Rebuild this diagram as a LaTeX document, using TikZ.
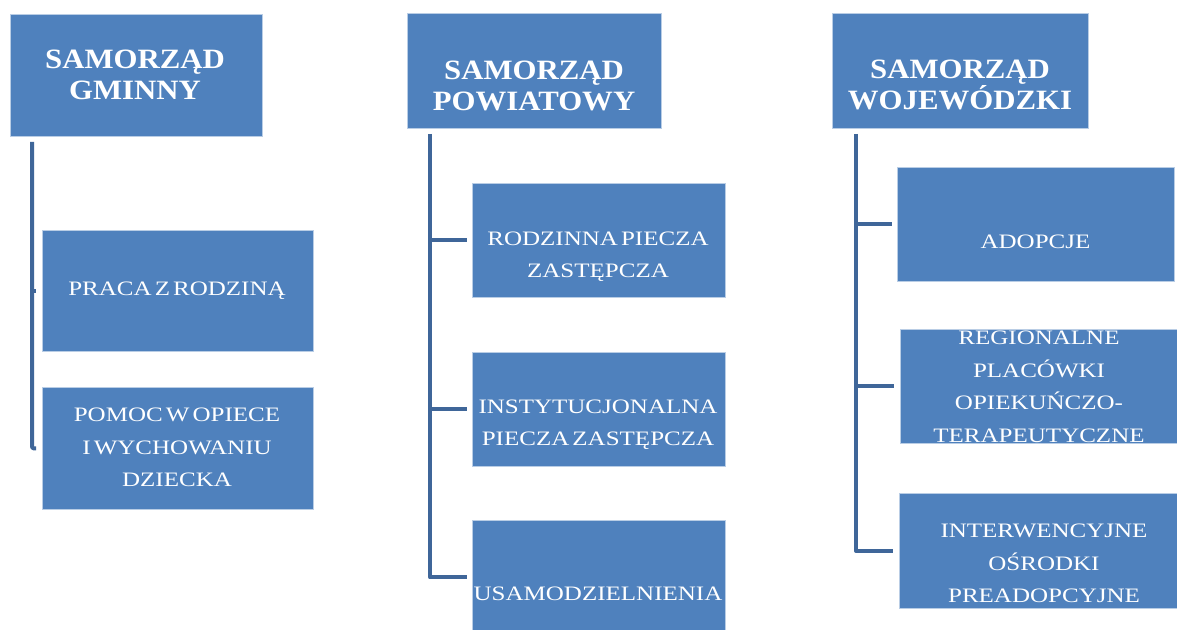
\documentclass[tikz,border=0pt]{standalone}
\usepackage{fontspec}
\newfontfamily\titlefont[FakeStretch=1.1]{Liberation Serif}
\newfontfamily\subfont[FakeStretch=1.22,WordSpace=0.5]{Liberation Serif}
\definecolor{boxfill}{HTML}{4F81BD}
\definecolor{boxedge}{HTML}{B9CDE5}
\definecolor{linkcol}{HTML}{3F6699}
\begin{document}
\begin{tikzpicture}[x=1pt,y=-1pt,
  box/.style={draw=boxedge, line width=0.8pt, fill=boxfill, inner sep=0pt, anchor=north west},
  ttl/.style={text=white, align=center, font=\titlefont\bfseries\fontsize{28}{31.5}\selectfont, inner sep=0pt},
  sub/.style={text=white, align=center, font=\subfont\fontsize{20.5}{32.5}\selectfont, inner sep=0pt},
  link/.style={draw=linkcol, line width=4pt, line join=round}]
\fill[white] (0,0) rectangle (1177,629);
\useasboundingbox (0,0) rectangle (1177,629);
\clip (0,0) rectangle (1177,629);

% column 1
\node[box, minimum width=252pt, minimum height=122pt] (g) at (10,14) {};
\node[box, minimum width=271pt, minimum height=121pt] (g1) at (42,230) {};
\node[box, minimum width=271pt, minimum height=122pt] (g2) at (42,387) {};
\node[ttl] (gt) at (135,75) {SAMORZĄD\\GMINNY};
\node[sub] (g1t) at (177,291) {PRACA Z RODZINĄ};
\node[sub] (g2t) at (177,447.5) {POMOC W OPIECE\\I WYCHOWANIU\\DZIECKA};

% column 2
\node[box, minimum width=254pt, minimum height=115pt] (p) at (407,13) {};
\node[box, minimum width=253pt, minimum height=114pt] (p1) at (472,183) {};
\node[box, minimum width=253pt, minimum height=114pt] (p2) at (472,352) {};
\node[box, minimum width=253pt, minimum height=114pt] (p3) at (472,520) {};
\node[ttl] (pt) at (534,86) {SAMORZĄD\\POWIATOWY};
\node[sub] (p1t) at (598,256.5) {RODZINNA PIECZA\\ZASTĘPCZA};
\node[sub] (p2t) at (598,424.5) {INSTYTUCJONALNA\\PIECZA ZASTĘPCZA};
\node[sub] (p3t) at (598,594) {USAMODZIELNIENIA};

% column 3
\node[box, minimum width=256pt, minimum height=115pt] (w) at (832,13) {};
\node[box, minimum width=277pt, minimum height=114pt] (w1) at (897,167) {};
\node[box, minimum width=290pt, minimum height=114pt] (w2) at (900,329) {};
\node[box, minimum width=290pt, minimum height=115pt] (w3) at (899,493) {};
\node[ttl] (wt) at (960,85) {SAMORZĄD\\WOJEWÓDZKI};
\node[sub] (w1t) at (1035.5,241.5) {ADOPCJE};
\node[sub] (w2t) at (1039,387) {REGIONALNE\\PLACÓWKI\\OPIEKUŃCZO-\\TERAPEUTYCZNE};
\node[sub] (w3t) at (1044,563.5) {INTERWENCYJNE\\OŚRODKI\\PREADOPCYJNE};

% connectors
\coordinate (gs) at ([xshift=22pt,yshift=-5pt]g.south west);
\coordinate (g1e) at ([xshift=-6pt]g1.west);
\coordinate (g2e) at ([xshift=-6pt]g2.west);
\draw[link, rounded corners=2pt] (gs) |- (g2e);
\draw[link] (gs |- g1e) -- (g1e);

\coordinate (ps) at ([xshift=23pt,yshift=-5pt]p.south west);
\coordinate (p1e) at ([xshift=-5pt]p1.west);
\coordinate (p2e) at ([xshift=-5pt]p2.west);
\coordinate (p3e) at ([xshift=-5pt]p3.west);
\draw[link] (ps) |- (p3e);
\draw[link] (ps |- p1e) -- (p1e);
\draw[link] (ps |- p2e) -- (p2e);

\coordinate (ws) at ([xshift=24pt,yshift=-5pt]w.south west);
\coordinate (w1e) at ([xshift=-5pt]w1.west);
\coordinate (w2e) at ([xshift=-6pt]w2.west);
\coordinate (w3e) at ([xshift=-6pt]w3.west);
\draw[link] (ws) |- (w3e);
\draw[link] (ws |- w1e) -- (w1e);
\draw[link] (ws |- w2e) -- (w2e);
\end{tikzpicture}
\end{document}
